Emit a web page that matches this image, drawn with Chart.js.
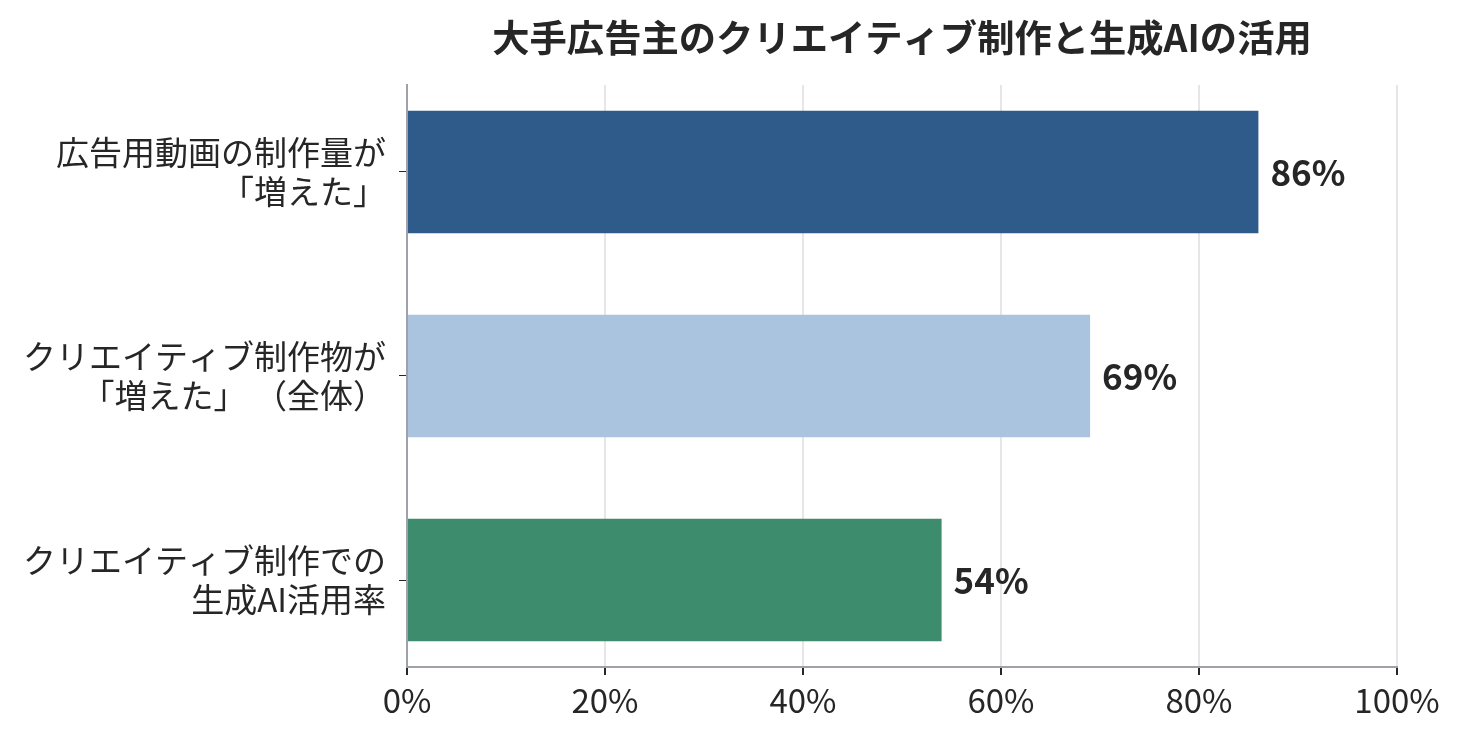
<!DOCTYPE html>
<html lang="ja">
<head>
<meta charset="utf-8">
<title>大手広告主のクリエイティブ制作と生成AIの活用</title>
<script src="https://cdn.jsdelivr.net/npm/chart.js@4.4.1/dist/chart.umd.min.js"></script>
<style>
  body { margin: 0; background: #fff; }
  canvas { display: block; }
</style>
</head>
<body>
<canvas id="aiChart" width="1460" height="742"></canvas>
<script>
const chartTitle = "大手広告主のクリエイティブ制作と生成AIの活用";
const categories = [
  ["広告用動画の制作量が", "「増えた」"],
  ["クリエイティブ制作物が", "「増えた」 （全体）"],
  ["クリエイティブ制作での", "生成AI活用率"],
];
const percentValues = [86, 69, 54];
const barColors = ["#2e5b8a", "#aac3de", "#3c8c6d"];
const xTicks = [0, 20, 40, 60, 80, 100];

const FONT = "'Noto Sans CJK JP', 'Noto Sans', sans-serif";
const TEXT = "#262626";

// draws the bold % after each bar and the title centred on the plot
const labelPlugin = {
  id: "labelPlugin",
  afterDatasetsDraw(chart) {
    const ctx = chart.ctx;
    const meta = chart.getDatasetMeta(0);
    ctx.save();
    ctx.fillStyle = TEXT;
    ctx.font = "bold 35px " + FONT;
    ctx.textAlign = "left";
    ctx.textBaseline = "middle";
    meta.data.forEach((bar, i) => {
      ctx.fillText(percentValues[i] + "%", bar.x + 12, bar.y + 1);
    });
    const area = chart.chartArea;
    ctx.font = "bold 37.3px " + FONT;
    ctx.textAlign = "center";
    ctx.fillText(chartTitle, (area.left + area.right) / 2, 38);
    ctx.restore();
  },
};

const canvas = document.querySelector("#aiChart");
const aiChart = new Chart(canvas, {
  type: "bar",
  data: {
    datasets: [
      {
        data: percentValues.map((v, i) => ({ x: v, y: i })),
        backgroundColor: barColors,
        barPercentage: 0.6,
        categoryPercentage: 1,
        borderWidth: 0,
      },
    ],
  },
  options: {
    indexAxis: "y",
    responsive: false,
    animation: false,
    layout: { padding: { top: 85, right: 63, left: 0, bottom: 0 } },
    scales: {
      x: {
        type: "linear",
        min: 0,
        max: 100,
        afterBuildTicks: (scale) => {
          scale.ticks = xTicks.map((v) => ({ value: v }));
        },
        afterFit: (scale) => {
          scale.height = 75;
        },
        ticks: {
          callback: (v) => v + "%",
          color: TEXT,
          padding: 6,
          font: { size: 33, family: FONT },
        },
        grid: {
          color: "#e6e6ea",
          lineWidth: 2,
          tickColor: "#262626",
          tickLength: 8,
        },
        border: { color: "#9ea2a8", width: 2 },
      },
      y: {
        type: "linear",
        offset: false,
        min: -0.426,
        max: 2.426,
        reverse: true,
        afterBuildTicks: (scale) => {
          scale.ticks = categories.map((c, i) => ({ value: i }));
        },
        afterFit: (scale) => {
          scale.width = 407;
        },
        ticks: {
          callback: (v) => categories[v],
          color: TEXT,
          padding: 13,
          font: { size: 33, family: FONT, lineHeight: 1.18 },
        },
        grid: {
          offset: false,
          drawOnChartArea: false,
          tickColor: "#262626",
          tickLength: 8,
        },
        border: { color: "#9ea2a8", width: 2 },
      },
    },
    plugins: {
      legend: { display: false },
      tooltip: { enabled: false },
    },
  },
  plugins: [labelPlugin],
});
</script>
</body>
</html>
